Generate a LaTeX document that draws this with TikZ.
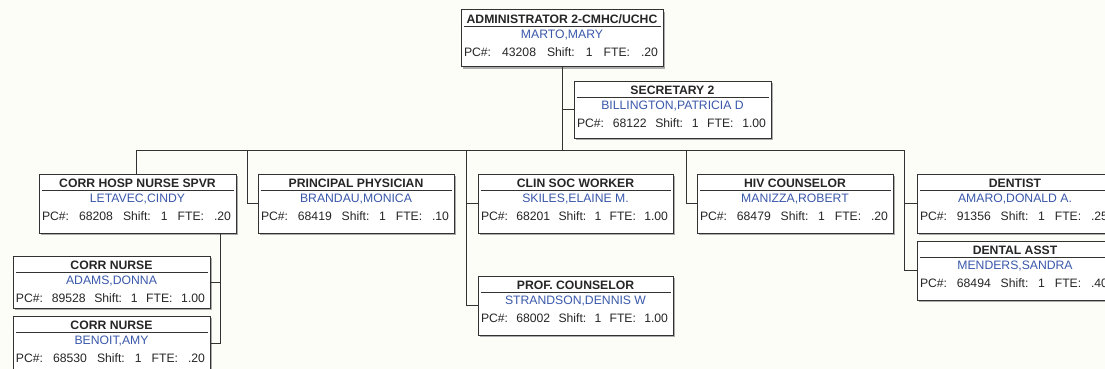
\documentclass[tikz,border=0pt]{standalone}
\usepackage{fontspec}
\setmainfont{Liberation Sans}
\usetikzlibrary{shadows}
\definecolor{bgcol}{RGB}{253,253,248}
\definecolor{linecol}{RGB}{50,50,50}
\definecolor{namecol}{RGB}{58,88,170}
\definecolor{titlecol}{RGB}{38,38,38}
\tikzset{
  orgbox/.style={draw=linecol, line width=1pt, fill=white, inner sep=0pt,
    drop shadow={shadow xshift=2pt, shadow yshift=-2pt, fill=gray!65, opacity=1}},
  titlerule/.style={draw=linecol, line width=0.9pt},
  titletext/.style={font=\fontsize{12.2}{13}\selectfont\bfseries, text=titlecol, inner sep=0pt},
  nametext/.style={font=\fontsize{12.2}{13}\selectfont, text=namecol, inner sep=0pt},
  pctext/.style={font=\fontsize{12.2}{13}\selectfont, text=titlecol, inner sep=0pt},
  conn/.style={draw=linecol, line width=0.9pt}
}
\newcommand\orgbox[9]{%
  \pgfmathsetmacro\bw{#4-#2}%
  \pgfmathsetmacro\bh{#5-#3}%
  \pgfmathsetmacro\pcw{#4-#2-8}%
  \node[orgbox, minimum width=\bw pt, minimum height=\bh pt] (#1) at ({(#2+#4)/2},{(#3+#5)/2}) {};
  \draw[titlerule] ([xshift=3pt,yshift=-17pt]#1.north west) -- ([xshift=-3pt,yshift=-17pt]#1.north east);
  \node[titletext] (#1-t) at ([yshift=-9.5pt]#1.north) {#6};
  \node[nametext] (#1-n) at ([yshift=-26pt]#1.north) {#7};
  \node[pctext] (#1-p) at ([xshift=-1pt,yshift=-43pt]#1.north) {\makebox[\pcw pt]{PC\#:\hfill #8\hfill Shift:\hfill 1\hfill FTE:\hfill #9}};
}
\begin{document}
\begin{tikzpicture}[x=1pt,y=-1pt]
\fill[bgcol] (0,0) rectangle (1105,369);
\useasboundingbox (0,0) rectangle (1105,369);

\orgbox{admin}{461}{10}{663}{67}{ADMINISTRATOR 2-CMHC/UCHC}{MARTO,MARY}{43208}{.20}
\orgbox{sec}{574}{81}{771}{138}{SECRETARY 2}{BILLINGTON,PATRICIA D}{68122}{1.00}
\orgbox{corrhosp}{39}{174}{236}{233}{CORR HOSP NURSE SPVR}{LETAVEC,CINDY}{68208}{.20}
\orgbox{principal}{258}{174}{454}{233}{PRINCIPAL PHYSICIAN}{BRANDAU,MONICA}{68419}{.10}
\orgbox{clin}{478}{174}{673}{233}{CLIN SOC WORKER}{SKILES,ELAINE M.}{68201}{1.00}
\orgbox{hiv}{697}{174}{893}{233}{HIV COUNSELOR}{MANIZZA,ROBERT}{68479}{.20}
\orgbox{dentist}{917}{174}{1113}{233}{DENTIST}{AMARO,DONALD A.}{91356}{.25}
\orgbox{dentasst}{917}{241}{1113}{300}{DENTAL ASST}{MENDERS,SANDRA}{68494}{.40}
\orgbox{prof}{478}{276}{673}{335}{PROF. COUNSELOR}{STRANDSON,DENNIS W}{68002}{1.00}
\orgbox{adams}{13}{256}{210}{308}{CORR NURSE}{ADAMS,DONNA}{89528}{1.00}
\orgbox{benoit}{13}{316}{210}{370}{CORR NURSE}{BENOIT,AMY}{68530}{.20}

\coordinate (busL) at (136,150);
\coordinate (busR) at (904,150);
\coordinate (dP) at (247,150);
\coordinate (dC) at (466,150);
\coordinate (dH) at (686,150);
\coordinate (dN) at (220,233);

\draw[conn] (admin.south) -- (admin.south |- busL);
\draw[conn] (sec.west) -- (sec.west -| admin.south);
\draw[conn] (busL) -- (busR);
\draw[conn] (busL) -- (busL |- corrhosp.north);
\draw[conn] (dP) |- (principal.west);
\draw[conn] (dC) |- (prof.west);
\draw[conn] (dC |- clin.west) -- (clin.west);
\draw[conn] (dH) |- (hiv.west);
\draw[conn] (busR) |- (dentasst.west);
\draw[conn] (busR |- dentist.west) -- (dentist.west);
\draw[conn] (dN) |- (benoit.east);
\draw[conn] (dN |- adams.east) -- (adams.east);
\end{tikzpicture}
\end{document}
